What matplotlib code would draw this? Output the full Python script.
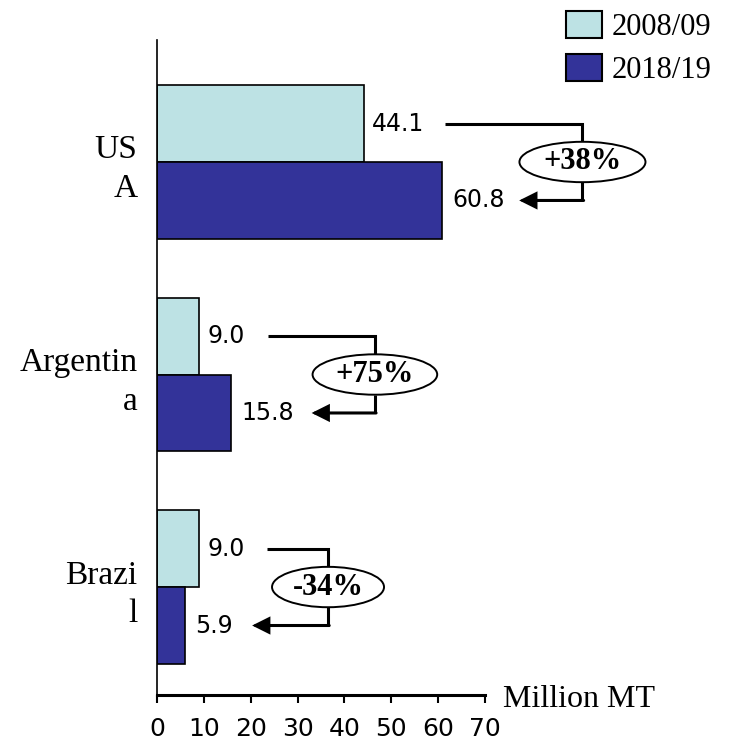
import matplotlib
matplotlib.use('Agg')
import matplotlib.pyplot as plt
from matplotlib.patches import Ellipse, Patch

# Data
countries = ['US\nA', 'Argentin\na', 'Brazi\nl']
vals_0809 = [44.1, 9.0, 9.0]
vals_1819 = [60.8, 15.8, 5.9]
pct_labels = ['+38%', '+75%', '-34%']
seasons = ['2008/09', '2018/19']
xticks = [0, 10, 20, 30, 40, 50, 60, 70]

light = '#BDE2E4'
dark = '#333399'
serif = 'Liberation Serif'

fig = plt.figure(figsize=(7.31, 7.45), dpi=100)
ax = fig.add_axes([157 / 731, 1 - 695 / 745, 328 / 731, 655 / 745])

centers = [2, 1, 0]
h = 0.362
y_light = [c + h / 2 for c in centers]
y_dark = [c - h / 2 for c in centers]

ax.barh(y_light, vals_0809, height=h, color=light, edgecolor='black', linewidth=1.2)
ax.barh(y_dark, vals_1819, height=h, color=dark, edgecolor='black', linewidth=1.2)

# value labels
for y, v in zip(y_light, vals_0809):
    ax.text(v + 1.8, y, f'{v:.1f}', va='center', ha='left', fontsize=17, family='DejaVu Sans')
for y, v in zip(y_dark, vals_1819):
    ax.text(v + 2.2, y, f'{v:.1f}', va='center', ha='left', fontsize=17, family='DejaVu Sans')

# change brackets (layout positions in data units)
line_start = [61.4, 23.7, 23.5]
bracket_x = [90.8, 46.5, 36.5]
arrow_tip = [77.3, 33.0, 20.3]
ell_w = [26.9, 26.6, 23.9]
ell_h = 0.19

for i, c in enumerate(centers):
    bx = bracket_x[i]
    yl, yd = y_light[i], y_dark[i]
    ax.plot([line_start[i], bx, bx], [yl, yl, c + ell_h / 2], color='black', lw=2.2,
            clip_on=False, solid_capstyle='butt', solid_joinstyle='miter')
    ax.plot([bx, bx], [c - ell_h / 2, yd], color='black', lw=2.2, clip_on=False,
            solid_capstyle='butt')
    ax.annotate('', xy=(arrow_tip[i], yd), xytext=(bx + 0.25, yd), annotation_clip=False,
                arrowprops=dict(arrowstyle='-|>', lw=2.2, color='black', mutation_scale=24,
                                shrinkA=0, shrinkB=0, joinstyle='miter'))
    ax.add_patch(Ellipse((bx, c), ell_w[i], ell_h, facecolor='white', edgecolor='black',
                         lw=1.4, clip_on=False, zorder=5))
    ax.text(bx, c, pct_labels[i], ha='center', va='center', fontsize=22,
            fontweight='bold', family=serif, zorder=6)

ax.set_xlim(0, 70)
ax.set_ylim(-0.508, 2.574)
ax.set_xticks(xticks)
ax.set_yticks(centers)
ax.set_yticklabels(countries, family=serif, fontsize=24, linespacing=1.35)
ax.tick_params(axis='y', length=0, pad=14)
ax.tick_params(axis='x', direction='out', length=6, width=1.5, pad=10, labelsize=18)

for s in ['top', 'right']:
    ax.spines[s].set_visible(False)
ax.spines['left'].set_linewidth(1.2)
ax.spines['bottom'].set_linewidth(2.2)

ax.text(1.055, -0.018, 'Million MT', transform=ax.transAxes, ha='left', va='baseline',
        fontsize=23, family=serif)

handles = [Patch(facecolor=light, edgecolor='black', lw=1.5),
           Patch(facecolor=dark, edgecolor='black', lw=1.5)]
fig.legend(handles, seasons, loc='upper left', bbox_to_anchor=(566 / 731, 1 - 11 / 745),
           frameon=False, prop={'family': serif, 'size': 22}, handlelength=1.18,
           handleheight=1.0, handletextpad=0.3, labelspacing=0.38, borderpad=0,
           borderaxespad=0)

fig.savefig('out.png', dpi=100)
